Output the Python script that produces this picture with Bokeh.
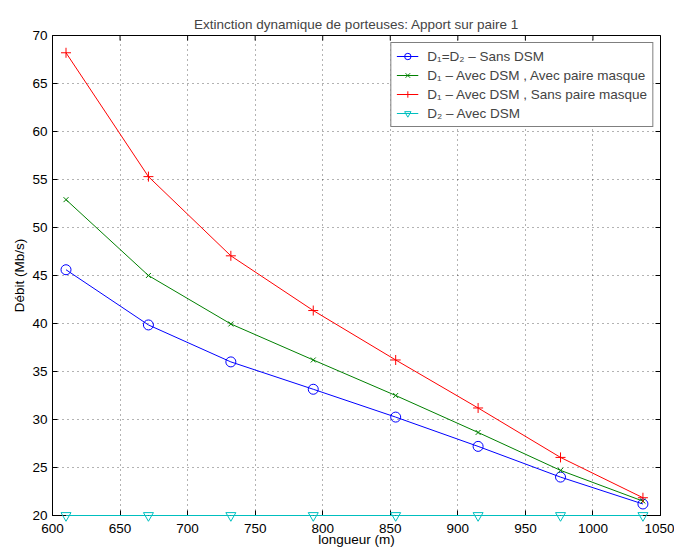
import math
from bokeh.plotting import figure
from bokeh.models import Range1d, Legend, LegendItem
from bokeh.embed import file_html
from bokeh.resources import INLINE

# ---- data ----
longueur = [610, 671, 732, 793, 854, 915, 976, 1037]
d1_d2_sans_dsm = [45.6, 39.85, 36.0, 33.15, 30.25, 27.2, 24.0, 21.2]
d1_avec_dsm_avec_masque = [52.9, 45.0, 39.95, 36.2, 32.5, 28.65, 24.7, 21.5]
d1_avec_dsm_sans_masque = [68.2, 55.3, 47.05, 41.35, 36.2, 31.2, 26.05, 21.85]
d2_avec_dsm = [20, 20, 20, 20, 20, 20, 20, 20]

x_ticks = [600, 650, 700, 750, 800, 850, 900, 950, 1000, 1050]
y_ticks = [20, 25, 30, 35, 40, 45, 50, 55, 60, 65, 70]

labels = [
    "D\u2081=D\u2082 \u2013 Sans DSM",
    "D\u2081 \u2013 Avec DSM , Avec paire masque",
    "D\u2081 \u2013 Avec DSM , Sans paire masque",
    "D\u2082 \u2013 Avec DSM",
]
title_text = "Extinction dynamique de porteuses: Apport sur paire 1"
x_label = "longueur (m)"
y_label = "D\u00e9bit (Mb/s)"

FONT = "Liberation Sans"
FS = "13.5px"
BLUE, GREEN, RED, CYAN = "#0000ff", "#008000", "#ff0000", "#00bfbf"

x0, x1 = x_ticks[0], x_ticks[-1]
y0, y1 = y_ticks[0], y_ticks[-1]

p = figure(width=674, height=549, output_backend="svg", toolbar_location=None,
           x_range=Range1d(x0, x1), y_range=Range1d(y0, y1),
           min_border_left=52, min_border_right=14, min_border_top=35, min_border_bottom=34,
           title=title_text)
p.outline_line_color = "black"
p.outline_line_width = 1
p.background_fill_color = "white"
p.border_fill_color = "white"

p.title.align = "center"
p.title.text_font = FONT
p.title.text_font_size = FS
p.title.text_font_style = "normal"
p.title.standoff = 8

for ax in (p.xaxis[0], p.yaxis[0]):
    ax.major_tick_in = 5
    ax.major_tick_out = 0
    ax.minor_tick_in = 0
    ax.minor_tick_out = 0
    ax.axis_line_color = "black"
    ax.major_tick_line_color = "black"
    ax.major_label_text_font = FONT
    ax.major_label_text_font_size = FS
    ax.major_label_text_color = "black"
    ax.axis_label_text_font = FONT
    ax.axis_label_text_font_size = FS
    ax.axis_label_text_font_style = "normal"
    ax.axis_label_text_color = "black"
p.xaxis.ticker = x_ticks
p.yaxis.ticker = y_ticks
p.xaxis.major_label_standoff = 8
p.yaxis.major_label_standoff = 5
p.xaxis.axis_label = x_label
p.xaxis.axis_label_standoff = -4
p.yaxis.axis_label = y_label
p.yaxis.axis_label_standoff = 2

p.xgrid.ticker = x_ticks
p.ygrid.ticker = y_ticks
for g in (p.xgrid[0], p.ygrid[0]):
    g.grid_line_color = "black"
    g.grid_line_alpha = 0.6
    g.grid_line_dash = "1 4"
    g.grid_line_width = 1

# inward ticks mirrored on the top and right edges of the box (clipped to the frame)
p.scatter(x_ticks, [y1] * len(x_ticks), marker="dash", size=10, angle=math.pi / 2,
          line_color="black", line_width=1)
p.scatter([x1] * len(y_ticks), y_ticks, marker="dash", size=10, angle=0,
          line_color="black", line_width=1)

l1 = p.line(longueur, d1_d2_sans_dsm, color=BLUE, line_width=1)
m1 = p.scatter(longueur, d1_d2_sans_dsm, marker="circle", size=10, fill_color=None,
               line_color=BLUE, line_width=1)
l2 = p.line(longueur, d1_avec_dsm_avec_masque, color=GREEN, line_width=1)
m2 = p.scatter(longueur, d1_avec_dsm_avec_masque, marker="x", size=7, line_color=GREEN, line_width=1)
l3 = p.line(longueur, d1_avec_dsm_sans_masque, color=RED, line_width=1)
m3 = p.scatter(longueur, d1_avec_dsm_sans_masque, marker="cross", size=10, line_color=RED, line_width=1)
l4 = p.line(longueur, d2_avec_dsm, color=CYAN, line_width=1, level="overlay")
m4 = p.scatter(longueur, d2_avec_dsm, marker="inverted_triangle", size=10, fill_color=None,
               line_color=CYAN, line_width=1, level="overlay")

legend = Legend(items=[
    LegendItem(label=labels[0], renderers=[l1, m1]),
    LegendItem(label=labels[1], renderers=[l2, m2]),
    LegendItem(label=labels[2], renderers=[l3, m3]),
    LegendItem(label=labels[3], renderers=[l4, m4]),
], location="top_right", margin=7, padding=5, spacing=3,
    glyph_width=22, glyph_height=16, label_height=16, label_standoff=9,
    label_text_font=FONT, label_text_font_size=FS,
    border_line_color="black", border_line_width=1,
    background_fill_color="white", background_fill_alpha=1.0)
p.add_layout(legend)

open("out.html", "w").write(file_html(p, INLINE))
